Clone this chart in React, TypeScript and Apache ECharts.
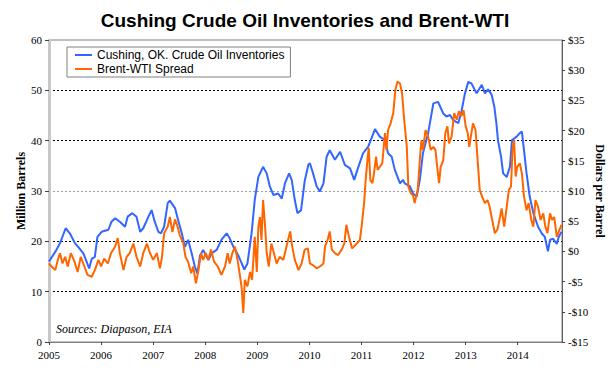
import React, { useEffect, useRef } from "react";
import * as echarts from "echarts";

const title = "Cushing Crude Oil Inventories and Brent-WTI";
const cushingName = "Cushing, OK. Crude Oil Inventories";
const spreadName = "Brent-WTI Spread";
const yearTicks = [2005, 2006, 2007, 2008, 2009, 2010, 2011, 2012, 2013, 2014];

const cushingYears = [
  2005.0, 2005.12, 2005.21, 2005.32, 2005.4, 2005.5, 2005.56, 2005.66, 2005.72, 2005.77, 2005.82, 2005.88, 2005.93,
  2006.01, 2006.14, 2006.2, 2006.27, 2006.36, 2006.46, 2006.51, 2006.6, 2006.68, 2006.75, 2006.81, 2006.91, 2006.97,
  2007.03, 2007.1, 2007.15, 2007.21, 2007.28, 2007.32, 2007.42, 2007.48, 2007.55, 2007.61, 2007.67, 2007.74, 2007.8,
  2007.85, 2007.9, 2007.96, 2008.06, 2008.12, 2008.22, 2008.31, 2008.41, 2008.47, 2008.54, 2008.63, 2008.7, 2008.75,
  2008.81, 2008.89, 2008.95, 2009.02, 2009.11, 2009.18, 2009.24, 2009.31, 2009.4, 2009.47, 2009.53, 2009.61, 2009.66,
  2009.72, 2009.77, 2009.84, 2009.91, 2009.98, 2010.01, 2010.07, 2010.14, 2010.2, 2010.27, 2010.33, 2010.39, 2010.49,
  2010.59, 2010.68, 2010.78, 2010.86, 2010.94, 2011.03, 2011.13, 2011.26, 2011.35, 2011.45, 2011.51, 2011.58, 2011.64,
  2011.74, 2011.8, 2011.83, 2011.93, 2011.99, 2012.06, 2012.12, 2012.18, 2012.28, 2012.38, 2012.47, 2012.57, 2012.63,
  2012.7, 2012.76, 2012.86, 2012.92, 2012.98, 2013.05, 2013.11, 2013.21, 2013.31, 2013.37, 2013.43, 2013.5, 2013.55,
  2013.59, 2013.62, 2013.68, 2013.72, 2013.79, 2013.85, 2013.89, 2013.98, 2014.04, 2014.08, 2014.12, 2014.17, 2014.23,
  2014.3, 2014.39, 2014.46, 2014.52, 2014.58, 2014.62, 2014.68, 2014.75, 2014.79, 2014.84,
];
const cushingValues = [
  16.0, 17.9, 19.6, 22.6, 21.6, 19.6, 18.9, 17.6, 16.0, 14.6, 16.5, 16.9, 20.9,
  21.9, 22.3, 23.9, 24.6, 23.9, 22.9, 24.9, 25.6, 24.9, 21.9, 22.6, 24.9, 26.2,
  23.9, 21.9, 21.6, 22.9, 27.6, 28.1, 26.6, 24.2, 21.6, 18.9, 20.3, 17.6, 15.0,
  13.6, 17.2, 18.3, 16.3, 17.6, 18.3, 20.3, 21.6, 20.6, 18.9, 17.3, 15.6, 14.4,
  15.6, 21.6, 28.2, 32.8, 34.8, 33.5, 30.9, 29.2, 29.5, 28.5, 31.5, 33.5, 32.2,
  28.2, 25.6, 26.2, 32.0, 35.2, 35.5, 33.5, 30.9, 29.9, 31.5, 36.8, 38.1, 36.2,
  37.8, 35.2, 34.5, 32.2, 34.8, 37.5, 38.8, 42.3, 40.8, 40.1, 37.5, 36.8, 34.2,
  31.5, 32.2, 31.5, 30.9, 29.5, 28.9, 32.2, 37.5, 41.5, 47.4, 47.7, 45.4, 44.8,
  45.1, 44.1, 43.5, 45.8, 49.1, 51.7, 51.4, 49.4, 51.1, 49.4, 50.2, 49.1, 46.8,
  43.5, 40.1, 36.8, 33.5, 32.8, 34.8, 40.1, 40.8, 41.5, 41.8, 38.1, 33.5, 28.9,
  25.6, 22.9, 21.6, 20.9, 18.0, 20.3, 20.5, 19.5, 20.9, 21.9,
];

const spreadYears = [
  2005.0, 2005.05, 2005.12, 2005.17, 2005.21, 2005.26, 2005.31, 2005.36, 2005.42, 2005.49, 2005.55, 2005.61, 2005.68,
  2005.74, 2005.82, 2005.88, 2005.95, 2006.0, 2006.06, 2006.13, 2006.19, 2006.27, 2006.32, 2006.36, 2006.43, 2006.49,
  2006.55, 2006.62, 2006.68, 2006.75, 2006.81, 2006.88, 2006.94, 2007.0, 2007.07, 2007.13, 2007.17, 2007.21, 2007.28,
  2007.32, 2007.37, 2007.42, 2007.47, 2007.51, 2007.58, 2007.62, 2007.67, 2007.73, 2007.77, 2007.82, 2007.87, 2007.92,
  2007.96, 2008.01, 2008.06, 2008.11, 2008.17, 2008.24, 2008.31, 2008.38, 2008.43, 2008.47, 2008.52, 2008.57, 2008.62,
  2008.67, 2008.7, 2008.73, 2008.76, 2008.81, 2008.86, 2008.9, 2008.95, 2008.99, 2009.02, 2009.05, 2009.08, 2009.11,
  2009.15, 2009.18, 2009.22, 2009.27, 2009.32, 2009.37, 2009.43, 2009.5, 2009.56, 2009.63, 2009.67, 2009.72, 2009.79,
  2009.85, 2009.91, 2009.97, 2010.01, 2010.07, 2010.14, 2010.2, 2010.27, 2010.3, 2010.35, 2010.39, 2010.43, 2010.49,
  2010.55, 2010.62, 2010.67, 2010.71, 2010.76, 2010.82, 2010.91, 2010.97, 2011.01, 2011.05, 2011.08, 2011.12, 2011.14,
  2011.17, 2011.21, 2011.24, 2011.28, 2011.31, 2011.35, 2011.4, 2011.45, 2011.48, 2011.51, 2011.56, 2011.61, 2011.65,
  2011.69, 2011.74, 2011.78, 2011.82, 2011.87, 2011.9, 2011.95, 2011.99, 2012.02, 2012.08, 2012.12, 2012.15, 2012.18,
  2012.23, 2012.28, 2012.33, 2012.38, 2012.42, 2012.46, 2012.49, 2012.52, 2012.57, 2012.61, 2012.65, 2012.68, 2012.73,
  2012.78, 2012.83, 2012.87, 2012.92, 2012.96, 2013.0, 2013.04, 2013.07, 2013.1, 2013.14, 2013.19, 2013.23, 2013.27,
  2013.32, 2013.37, 2013.42, 2013.46, 2013.51, 2013.56, 2013.61, 2013.66, 2013.69, 2013.74, 2013.78, 2013.83, 2013.87,
  2013.9, 2013.93, 2013.96, 2013.99, 2014.04, 2014.08, 2014.12, 2014.17, 2014.21, 2014.26, 2014.3, 2014.34, 2014.39,
  2014.44, 2014.49, 2014.53, 2014.57, 2014.62, 2014.66, 2014.7, 2014.75, 2014.79, 2014.84,
];
const spreadValues = [
  -2.0, -2.5, -3.1, -1.4, -0.3, -2.0, -0.9, -2.5, -0.3, -1.7, -3.4, -0.9, -2.5,
  -3.9, -4.2, -3.1, -1.4, -2.5, -1.2, -2.0, -0.3, 0.8, 2.2, -0.3, -3.1, -0.9,
  -0.3, 1.3, -0.9, -2.5, -0.3, 1.3, -0.3, -1.4, -0.3, -2.8, -0.9, 3.0, 4.1,
  5.7, 3.2, 5.3, 4.1, 2.7, 1.3, -0.9, -1.7, -3.6, -2.5, -5.3, -3.1, -0.3,
  -1.4, -0.3, -1.4, 0.3, -1.7, -2.5, -3.9, -2.5, -0.3, -2.0, -0.3, 0.8, -1.4,
  -4.2, -6.1, -10.2, -4.7, -5.8, -3.4, -4.7, 2.4, -3.4, 4.1, 5.7, 1.9, 8.5,
  4.1, -0.3, -2.5, 1.3, -0.3, -2.0, -0.9, -1.4, 0.8, 3.3, 0.8, -1.4, -3.1,
  -2.0, 0.3, 0.5, -2.0, -2.3, -2.8, -2.5, -2.0, 0.8, 1.9, 3.3, 0.3, -0.3,
  -0.6, 0.3, 1.3, 4.4, 2.4, 0.5, 1.3, 1.9, 4.7, 8.0, 11.8, 15.7, 17.1,
  11.8, 11.3, 12.9, 15.7, 13.5, 14.0, 14.6, 19.6, 16.8, 20.1, 21.2, 22.9, 26.7,
  28.1, 27.8, 26.1, 21.8, 17.3, 10.7, 9.6, 9.3, 8.0, 10.2, 15.1, 18.4, 16.8,
  20.1, 19.0, 16.8, 17.3, 16.8, 13.5, 11.3, 14.0, 15.1, 19.6, 20.7, 17.9, 19.0,
  22.9, 21.8, 23.2, 22.4, 23.4, 20.7, 19.6, 17.3, 19.0, 21.2, 20.1, 15.1, 10.2,
  9.0, 8.0, 8.5, 7.4, 5.2, 3.0, 3.6, 5.7, 7.1, 4.1, 6.8, 10.2, 10.7,
  16.8, 18.4, 12.4, 14.0, 14.6, 12.9, 9.1, 6.8, 8.0, 5.2, 4.1, 8.5, 7.4,
  5.2, 6.3, 4.1, 3.0, 6.3, 5.2, 5.7, 2.4, 3.3, 4.4,
];

const SERIF = "'Liberation Serif', 'Times New Roman', serif";
const SANS = "'Liberation Sans', Arial, sans-serif";

export default function App() {
  const ref = useRef<HTMLDivElement>(null);
  useEffect(() => {
    if (!ref.current) return;
    const chart = echarts.init(ref.current, null, { renderer: "svg" });
    const cushingData = cushingYears.map((y, i) => [y, cushingValues[i]]);
    const spreadData = spreadYears.map((y, i) => [y, spreadValues[i]]);
    chart.setOption({
      animation: false,
      backgroundColor: "#ffffff",
      title: {
        text: title,
        left: 300,
        textAlign: "center",
        top: 6,
        textStyle: { fontFamily: SANS, fontSize: 19, fontWeight: "bold", color: "#000" },
      },
      legend: {
        left: 67,
        top: 47,
        orient: "vertical",
        backgroundColor: "#fff",
        borderColor: "#808080",
        borderWidth: 1,
        padding: [2, 6, 2, 8],
        itemGap: 2,
        itemWidth: 17,
        itemHeight: 2,
        itemTextGap: 3,
        icon: "rect",
        textStyle: { fontFamily: SANS, fontSize: 12, color: "#000" },
        data: [cushingName, spreadName],
      },
      grid: {
        left: 49,
        right: 48,
        top: 40,
        bottom: 33,
        containLabel: false,
        outerBoundsMode: "none",
        show: true,
        borderColor: "#808080",
        borderWidth: 1,
        backgroundColor: "transparent",
      },
      graphic: [
        {
          type: "text",
          left: 56,
          top: 323,
          style: {
            text: "Sources: Diapason, EIA",
            font: `italic 12px ${SERIF}`,
            fill: "#000",
          },
          z: 10,
        },
      ],
      xAxis: {
        type: "value",
        min: 2005,
        max: 2014.85,
        axisLine: { show: true, lineStyle: { color: "#808080", width: 1 } },
        axisTick: { show: true, length: 3, customValues: yearTicks, lineStyle: { color: "#404040" } },
        axisLabel: {
          customValues: yearTicks,
          margin: 7,
          fontFamily: SERIF,
          fontSize: 11,
          color: "#000",
          formatter: (v: number) => String(Math.round(v)),
        },
        splitLine: { show: false },
      },
      yAxis: [
        {
          type: "value",
          min: 0,
          max: 60,
          interval: 10,
          position: "left",
          name: "Million Barrels",
          nameLocation: "middle",
          nameGap: 22,
          nameRotate: 90,
          nameMoveOverlap: false,
          nameTextStyle: { fontFamily: SERIF, fontSize: 12, fontWeight: "bold", color: "#000" },
          axisLine: { show: true, lineStyle: { color: "#c8c8c8", width: 3 } },
          axisTick: { show: true, length: 4, lineStyle: { color: "#404040" } },
          axisLabel: { margin: 7, fontFamily: SERIF, fontSize: 11, color: "#000" },
          splitLine: {
            show: true,
            lineStyle: {
              type: [2, 2],
              width: 1,
              color: ["transparent", "#000", "#000", "#a0a0a0", "#000", "#000", "transparent"],
            },
          },
        },
        {
          type: "value",
          min: -15,
          max: 35,
          interval: 5,
          position: "right",
          name: "Dollars per Barrel",
          nameLocation: "middle",
          nameGap: 32,
          nameRotate: -90,
          nameMoveOverlap: false,
          nameTextStyle: { fontFamily: SERIF, fontSize: 12, fontWeight: "bold", color: "#000" },
          axisLine: { show: true, lineStyle: { color: "#606060", width: 1 } },
          axisTick: { show: true, length: 3, lineStyle: { color: "#404040" } },
          axisLabel: {
            margin: 6,
            fontFamily: SERIF,
            fontSize: 11,
            color: "#000",
            formatter: (v: number) => (v < 0 ? "-$" + Math.abs(v) : "$" + v),
          },
          splitLine: { show: false },
        },
      ],
      series: [
        {
          name: cushingName,
          type: "line",
          yAxisIndex: 0,
          data: cushingData,
          showSymbol: false,
          symbol: "none",
          lineStyle: { color: "#3366ff", width: 2 },
          itemStyle: { color: "#3366ff" },
          z: 3,
        },
        {
          name: spreadName,
          type: "line",
          yAxisIndex: 1,
          data: spreadData,
          showSymbol: false,
          symbol: "none",
          lineStyle: { color: "#ff6600", width: 2 },
          itemStyle: { color: "#ff6600" },
          z: 4,
        },
      ],
    });
    return () => chart.dispose();
  }, []);
  return (
    <div
      ref={ref}
      style={{ position: "fixed", left: 0, top: 0, width: 610, height: 375, background: "#fff" }}
    />
  );
}
